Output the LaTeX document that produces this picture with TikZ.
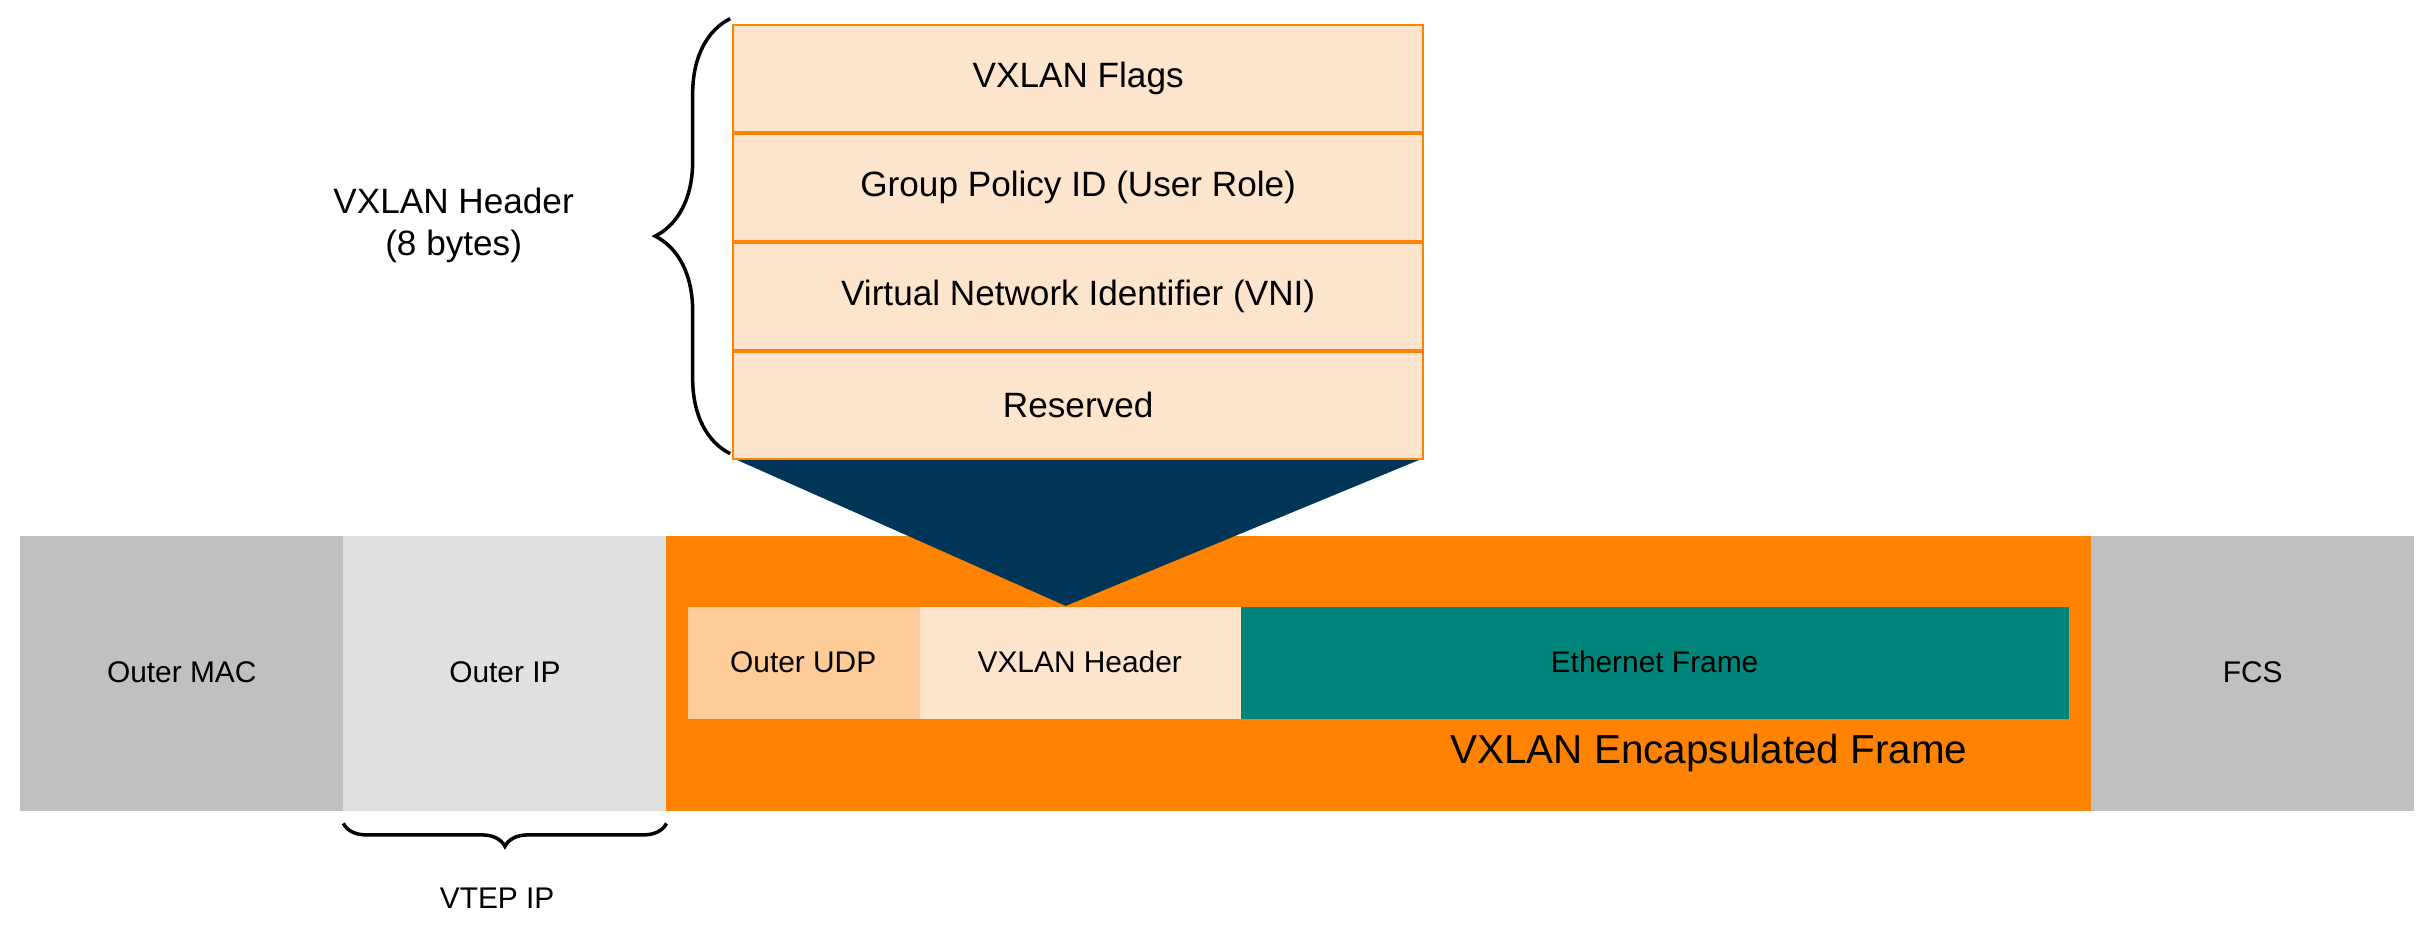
\documentclass[tikz,border=0pt]{standalone}
\usepackage{fontspec}
\setmainfont{Liberation Sans}
\usetikzlibrary{decorations.pathreplacing,positioning}
\definecolor{macgray}{HTML}{C0C0C0}
\definecolor{ipgray}{HTML}{E0E0E0}
\definecolor{vxorange}{HTML}{FF8300}
\definecolor{udpcol}{HTML}{FFCC99}
\definecolor{hdrcol}{HTML}{FDE4CC}
\definecolor{ethcol}{HTML}{00857A}
\definecolor{navy}{HTML}{003557}
\tikzset{
  field/.style={inner sep=0pt, font=\fontsize{8.5}{10}\selectfont},
  row/.style={draw=vxorange, line width=0.5pt, fill=hdrcol, inner sep=0pt,
    minimum width=444*0.015536cm, minimum height=69*0.015536cm,
    font=\fontsize{10}{12}\selectfont},
}
\begin{document}
\begin{tikzpicture}[x=0.015536cm, y=-0.015536cm]
		\useasboundingbox (0,0) rectangle (1568,595);
		% outer frame
		\fill[macgray] (13,345) rectangle (221,522);
		\fill[ipgray] (221,345) rectangle (429,522);
		\fill[vxorange] (429,345) rectangle (1346,522);
		\fill[macgray] (1346,345) rectangle (1554,522);
		\node[field] (mac) at (117,433) {Outer MAC};
		\node[field] (ip) at (325,433) {Outer IP};
		\node[field] (fcs) at (1450,433) {FCS};
		% inner frame
		\fill[udpcol] (443,391) rectangle (592,463);
		\fill[hdrcol] (592,391) rectangle (799,463);
		\fill[ethcol] (799,391) rectangle (1332,463);
		\node[field] (udp) at (517,426) {Outer UDP};
		\node[field] (hdr) at (695,426) {VXLAN Header};
		\node[field] (eth) at (1065,426) {Ethernet Frame};
		\node[inner sep=0pt, font=\fontsize{11.5}{13}\selectfont] (encap) at (1100,485) {VXLAN Encapsulated Frame};
		% expanded header
		\fill[navy] (472,295) -- (916,295) -- (686,390) -- cycle;
		\node[row] (flags) at (694,50.5) {VXLAN Flags};
		\node[row, below=0pt of flags] (gpid) {Group Policy ID (User Role)};
		\node[row, below=0pt of gpid] (vni) {Virtual Network Identifier (VNI)};
		\node[row, below=0pt of vni] (rsvd) {Reserved};
		% braces
		\draw[line width=1pt, decorate, decoration={brace, amplitude=0.75cm}] (470,292) -- (470,12);
		\node[align=center, inner sep=0pt, font=\fontsize{10}{12}\selectfont] (hdrlbl) at (292,145) {VXLAN Header\\(8 bytes)};
		\draw[line width=1pt, decorate, decoration={brace, amplitude=0.23cm}] (429,530) -- (221,530);
		\node[field] (vtep) at (320,578) {VTEP IP};
\end{tikzpicture}
\end{document}
